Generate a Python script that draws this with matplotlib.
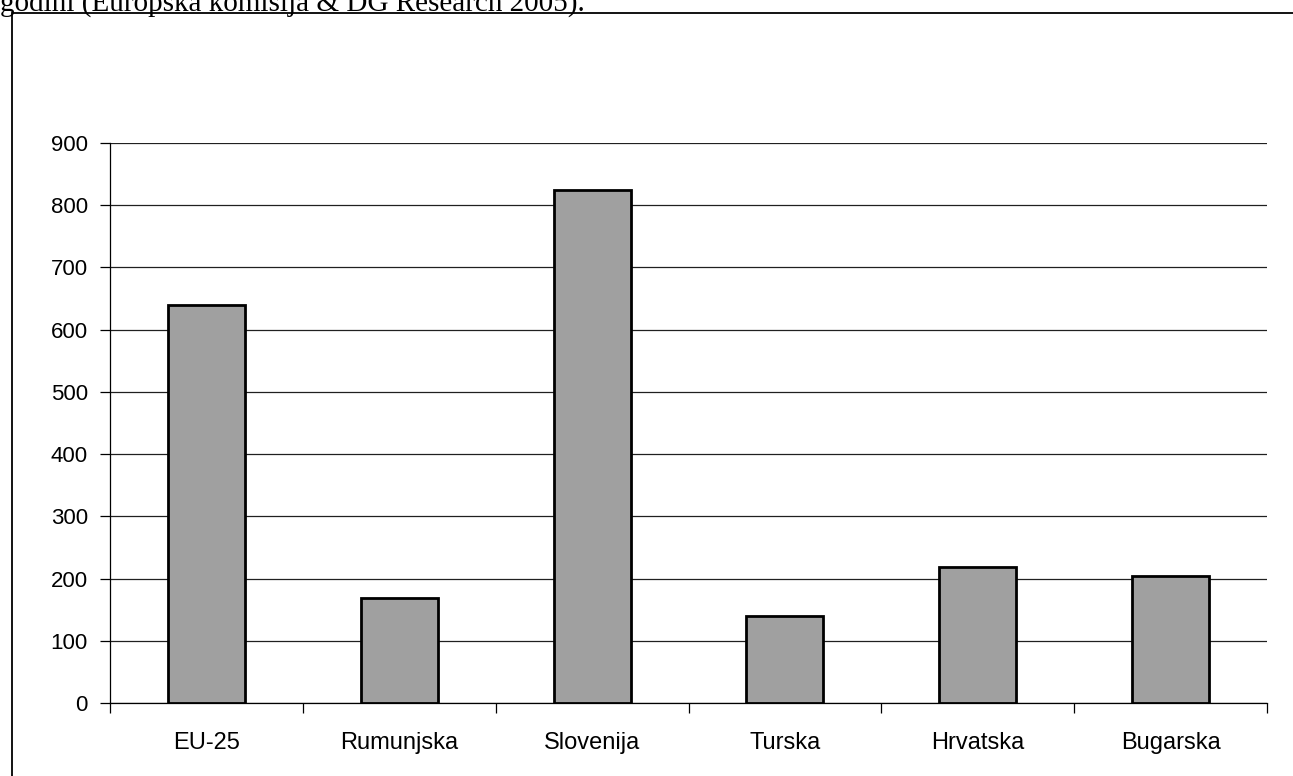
import numpy as np
import matplotlib
matplotlib.use("Agg")
import matplotlib.pyplot as plt
from matplotlib.patches import Rectangle

countries = ["EU-25", "Rumunjska", "Slovenija", "Turska", "Hrvatska", "Bugarska"]
values = [640, 169, 824, 140, 219, 204]
yticks = [0, 100, 200, 300, 400, 500, 600, 700, 800, 900]
caption = "godini (Europska komisija & DG Research 2005)."

W, H = 1293, 776
fig = plt.figure(figsize=(W / 100, H / 100), dpi=100)
fig.patch.set_facecolor("white")

# caption, partly cut by the top edge as in the source page
fig.text(0 / W, 1 - 11 / H, caption, family="Liberation Serif", fontsize=21,
         ha="left", va="baseline", color="black")

# outer frame of the chart object
fig.patches.append(Rectangle((12 / W, -0.1), 1.2, 1 - 13 / H + 0.1,
                             transform=fig.transFigure, fill=False,
                             edgecolor="black", linewidth=1.3))

ax = fig.add_axes([110 / W, 1 - 703 / H, (1267 - 110) / W, (703 - 143) / H])
x = np.arange(len(countries))
ax.bar(x, values, width=0.4, color="#a0a0a0", edgecolor="black",
       linewidth=2.0, zorder=3)

ax.set_xlim(-0.5, len(countries) - 0.5)
ax.set_ylim(0, 900)
ax.set_yticks(yticks)
ax.set_yticklabels([str(v) for v in yticks], family="Liberation Sans", fontsize=16)
ax.yaxis.grid(True, color="#202020", linewidth=0.9, zorder=0)

# category ticks on boundaries, labels centred
ax.set_xticks(np.arange(-0.5, len(countries)), minor=False)
ax.set_xticklabels([])
ax.set_xticks(x, minor=True)
ax.set_xticklabels(countries, minor=True, family="Liberation Sans", fontsize=17)
ax.tick_params(axis="x", which="major", direction="out", length=7, width=0.9)
ax.tick_params(axis="x", which="minor", length=0, pad=21)
ax.tick_params(axis="y", direction="out", length=7, width=0.9, pad=9)

for s in ["top", "right"]:
    ax.spines[s].set_visible(False)
ax.spines["left"].set_linewidth(0.9)
ax.spines["bottom"].set_linewidth(0.9)

fig.savefig("out.png", dpi=100, facecolor="white")
